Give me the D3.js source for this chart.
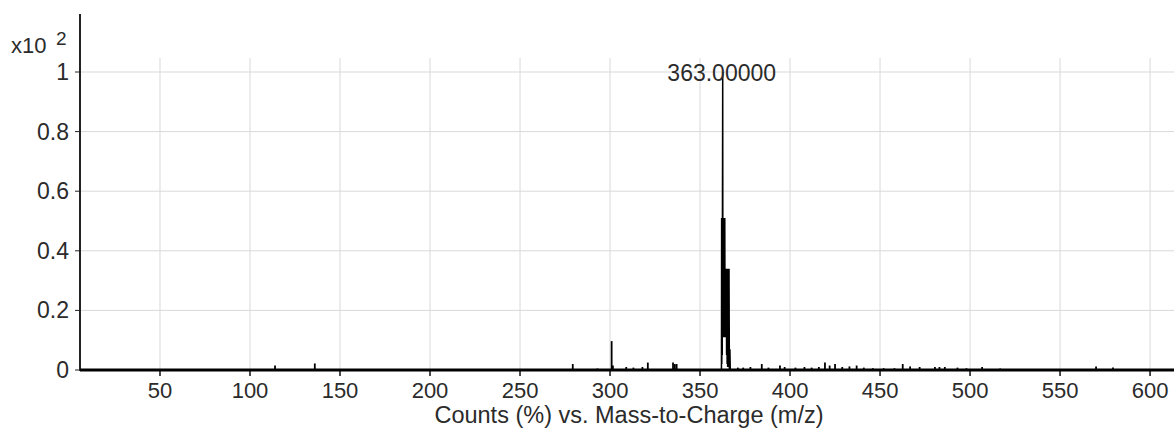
<!DOCTYPE html>
<html>
<head>
<meta charset="utf-8">
<script src="https://cdn.jsdelivr.net/npm/d3@7"></script>
<style>
  body { margin: 0; background: #fff; }
  svg text { font-family: "Liberation Sans", Arial, sans-serif; fill: #2b2b2b; }
</style>
</head>
<body>
<div id="chart"></div>
<script>
const width = 1174
const height = 432

// x / y ticks
const xTicks = [50, 100, 150, 200, 250, 300, 350, 400, 450, 500, 550, 600]
const yTicks = [0, 0.2, 0.4, 0.6, 0.8, 1]
const yTickLabels = ["0", "0.2", "0.4", "0.6", "0.8", "1"]

// main cluster around 363, profile points (m/z, counts x10^2)
const clusterMz = [361.9, 362.0, 362.1, 362.2, 362.35, 362.45, 362.6, 362.7, 362.85, 363.0, 363.15, 363.3, 363.45, 363.6, 363.75, 363.9, 364.0, 364.15, 364.3, 364.45, 364.6, 364.75, 364.9, 365.05, 365.2, 365.35, 365.5, 365.65, 365.8, 365.95, 366.1, 366.3, 366.6, 366.8]
const clusterInt = [0, 0.51, 0.02, 0.51, 0.05, 0.51, 1.0, 0.11, 0.51, 0.11, 0.51, 0.11, 0.51, 0.11, 0.51, 0.11, 0.34, 0.11, 0.34, 0.11, 0.34, 0.05, 0.34, 0.02, 0.34, 0.01, 0.34, 0.01, 0.34, 0.01, 0.34, 0, 0.07, 0]

// small peaks elsewhere (sticks)
const peakMz = [113.9, 136, 279.3, 293, 300.9, 301.6, 309, 313, 318, 321, 335, 336, 337, 371, 374, 378, 384.3, 388, 394.4, 397, 403, 408, 412, 416, 419.4, 422, 425, 429, 433, 437, 441, 446, 452, 458, 462.6, 466.7, 472, 480.5, 483, 486, 493, 498, 506.7, 516.7, 570, 579.4]
const peakInt = [0.015, 0.022, 0.02, 0.005, 0.097, 0.015, 0.01, 0.008, 0.01, 0.025, 0.025, 0.02, 0.02, 0.008, 0.008, 0.01, 0.02, 0.008, 0.015, 0.01, 0.008, 0.01, 0.008, 0.01, 0.025, 0.015, 0.02, 0.01, 0.012, 0.015, 0.008, 0.006, 0.006, 0.006, 0.02, 0.012, 0.01, 0.01, 0.01, 0.01, 0.008, 0.006, 0.01, 0.005, 0.012, 0.008]

const peakLabel = "363.00000"
const peakLabelMz = 362.6
const xTitle = "Counts (%) vs. Mass-to-Charge (m/z)"

const x = d3.scaleLinear().domain([5.56, 613.3]).range([80, 1174])
const y = d3.scaleLinear().domain([0, 1]).range([370, 72])

const svg = d3.select("#chart").append("svg")
    .attr("width", width)
    .attr("height", height)

// grid
svg.append("g").selectAll("line")
    .data(xTicks)
    .enter()
    .append("line")
    .attr("x1", d => x(d)).attr("x2", d => x(d))
    .attr("y1", 58).attr("y2", y(0))
    .style("stroke", "#d9d9d9")
svg.append("g").selectAll("line")
    .data(yTicks.slice(1))
    .enter()
    .append("line")
    .attr("x1", x.range()[0]).attr("x2", width)
    .attr("y1", d => y(d)).attr("y2", d => y(d))
    .style("stroke", "#d9d9d9")

// y axis
svg.append("line")
    .attr("x1", 80).attr("x2", 80)
    .attr("y1", 14).attr("y2", y(0) + 1)
    .style("stroke", "#222").style("stroke-width", 2)
svg.append("g").selectAll("line")
    .data(yTicks)
    .enter()
    .append("line")
    .attr("x1", 75).attr("x2", 80)
    .attr("y1", d => y(d)).attr("y2", d => y(d))
    .style("stroke", "#222")
svg.append("g").selectAll("text")
    .data(yTicks)
    .enter()
    .append("text")
    .text((d, i) => yTickLabels[i])
    .attr("x", 69)
    .attr("y", d => y(d) + 8)
    .attr("text-anchor", "end")
    .style("font-size", "23px")
svg.append("text").text("x10").attr("x", 11).attr("y", 53).style("font-size", "22px")
svg.append("text").text("2").attr("x", 56).attr("y", 45).style("font-size", "19px")

// x axis
svg.append("g").selectAll("line")
    .data(xTicks)
    .enter()
    .append("line")
    .attr("x1", d => x(d)).attr("x2", d => x(d))
    .attr("y1", y(0)).attr("y2", y(0) + 6)
    .style("stroke", "#111").style("stroke-width", 1.5)
svg.append("g").selectAll("text")
    .data(xTicks)
    .enter()
    .append("text")
    .text(d => d)
    .attr("x", d => x(d))
    .attr("y", 398)
    .attr("text-anchor", "middle")
    .style("font-size", "22px")
svg.append("text")
    .text(xTitle)
    .attr("x", 629)
    .attr("y", 423)
    .attr("text-anchor", "middle")
    .style("font-size", "23.5px")

// sticks
svg.append("g").selectAll("line")
    .data(peakMz)
    .enter()
    .append("line")
    .attr("x1", d => x(d)).attr("x2", d => x(d))
    .attr("y1", y(0)).attr("y2", (d, i) => y(peakInt[i]))
    .style("stroke", "#000").style("stroke-width", 1.8)

// main cluster profile
const line = d3.line()
    .x(d => x(d[0]))
    .y(d => y(d[1]))
svg.append("path")
    .datum(d3.zip(clusterMz, clusterInt))
    .attr("d", line)
    .style("fill", "none")
    .style("stroke", "#000")
    .style("stroke-width", 1.5)

// baseline
svg.append("line")
    .attr("x1", 80).attr("x2", width)
    .attr("y1", y(0)).attr("y2", y(0))
    .style("stroke", "#000").style("stroke-width", 3)

svg.append("text")
    .text(peakLabel)
    .attr("x", x(peakLabelMz) - 1)
    .attr("y", 81)
    .attr("text-anchor", "middle")
    .style("font-size", "23px")
</script>
</body>
</html>
